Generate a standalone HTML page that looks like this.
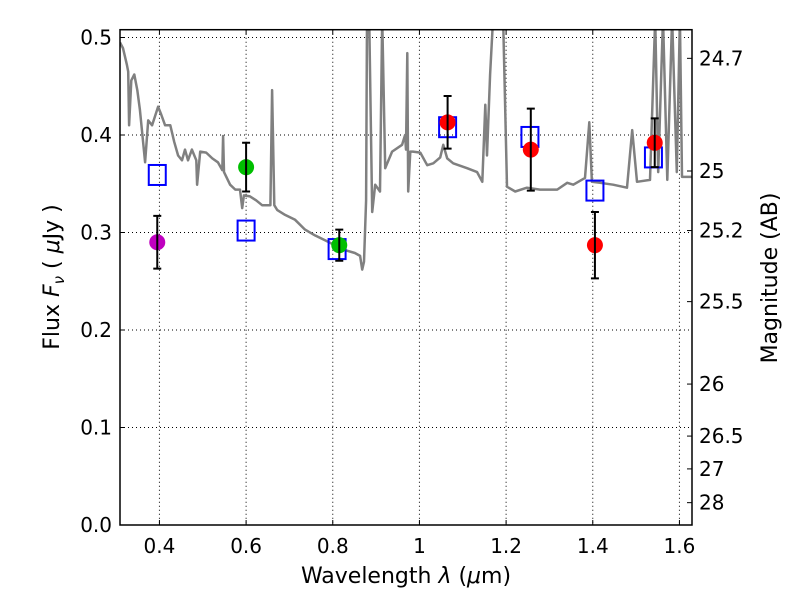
<!DOCTYPE html>
<html><head><meta charset="utf-8"><style>
body{margin:0;background:#fff;}
svg text{font-family:"DejaVu Sans","Liberation Sans",sans-serif;fill:#000;}
</style></head><body>
<svg id="chart" width="800" height="600" xmlns="http://www.w3.org/2000/svg"></svg>
<script>
const xTicks=[0.4,0.6,0.8,1.0,1.2,1.4,1.6];
const xTickLabels=["0.4","0.6","0.8","1","1.2","1.4","1.6"];
const yTicks=[0,0.1,0.2,0.3,0.4,0.5];
const yTickLabels=["0.0","0.1","0.2","0.3","0.4","0.5"];
const magTicks=[24.7,25,25.2,25.5,26,26.5,27,28];
const magTickLabels=["24.7","25","25.2","25.5","26","26.5","27","28"];
const specWave=[0.309,0.316,0.325,0.328,0.330,0.335,0.342,0.349,0.355,0.367,0.374,0.383,0.397,0.404,0.413,0.425,0.434,0.443,0.452,0.459,0.466,0.475,0.485,0.487,0.494,0.508,0.522,0.535,0.545,0.547,0.549,0.563,0.575,0.586,0.591,0.595,0.609,0.623,0.637,0.656,0.660,0.665,0.672,0.690,0.713,0.736,0.759,0.782,0.805,0.828,0.851,0.863,0.868,0.872,0.877,0.879,0.884,0.891,0.898,0.909,0.914,0.921,0.937,0.960,0.967,0.969,0.972,0.974,0.979,0.985,1.002,1.018,1.032,1.048,1.055,1.064,1.078,1.110,1.133,1.145,1.152,1.156,1.163,1.170,1.193,1.202,1.221,1.248,1.278,1.318,1.341,1.355,1.382,1.392,1.398,1.417,1.447,1.479,1.491,1.502,1.532,1.544,1.551,1.562,1.572,1.583,1.594,1.601,1.606,1.63];
const specFlux=[0.495,0.489,0.472,0.465,0.410,0.456,0.462,0.446,0.426,0.372,0.415,0.410,0.429,0.421,0.410,0.410,0.393,0.379,0.374,0.385,0.374,0.385,0.374,0.349,0.383,0.382,0.376,0.372,0.364,0.399,0.362,0.349,0.344,0.344,0.325,0.338,0.337,0.333,0.328,0.328,0.446,0.328,0.323,0.318,0.313,0.303,0.297,0.292,0.287,0.282,0.279,0.276,0.262,0.270,0.333,0.52,0.52,0.321,0.349,0.342,0.52,0.366,0.383,0.390,0.400,0.385,0.484,0.342,0.383,0.383,0.382,0.369,0.371,0.377,0.390,0.376,0.371,0.366,0.362,0.352,0.431,0.379,0.462,0.52,0.52,0.347,0.342,0.346,0.344,0.344,0.351,0.349,0.356,0.413,0.352,0.351,0.349,0.346,0.405,0.352,0.354,0.52,0.362,0.52,0.354,0.52,0.362,0.52,0.357,0.357];
const obsWave=[0.395,0.60,0.815,1.065,1.257,1.405,1.543];
const obsFlux=[0.290,0.367,0.287,0.413,0.385,0.287,0.392];
const obsErr=[0.027,0.025,0.016,0.027,0.042,0.034,0.025];
const obsColor=["#bf00bf","#00bf00","#00bf00","#ff0000","#ff0000","#ff0000","#ff0000"];
const modelWave=[0.395,0.60,0.81,1.065,1.255,1.405,1.54];
const modelFlux=[0.359,0.302,0.283,0.408,0.398,0.343,0.377];

const L=120,R=692,T=29.7,B=525,xmin=0.309,xmax=1.629,ymin=0,ymax=0.508;
const X=v=>L+(v-xmin)/(xmax-xmin)*(R-L);
const Y=v=>B-(v-ymin)/(ymax-ymin)*(B-T);
const svg=document.getElementById('chart');
const NS='http://www.w3.org/2000/svg';
function mk(tag,attrs,parent){const e=document.createElementNS(NS,tag);for(const k in attrs)e.setAttribute(k,attrs[k]);(parent||svg).appendChild(e);return e;}

const defs=mk('defs',{});
const cp=mk('clipPath',{id:'clip'},defs);
mk('rect',{x:L,y:T,width:R-L,height:B-T},cp);

xTicks.forEach((t,i)=>{
  const g=mk('line',{x1:X(t),x2:X(t),y1:T,y2:B,stroke:'#000','stroke-width':1,'stroke-dasharray':'1,3'});
  
  
  mk('line',{x1:X(t),x2:X(t),y1:B,y2:B-5,stroke:'#000'});
  mk('line',{x1:X(t),x2:X(t),y1:T,y2:T+5,stroke:'#000'});
  const tx=mk('text',{x:X(t),y:B+28,'text-anchor':'middle','font-size':20});
  tx.textContent=xTickLabels[i];
  
  
});
yTicks.forEach((t,i)=>{
  const g=mk('line',{x1:L,x2:R,y1:Y(t),y2:Y(t),stroke:'#000','stroke-width':1,'stroke-dasharray':'1,3'});
  
  
  mk('line',{x1:L,x2:L+5,y1:Y(t),y2:Y(t),stroke:'#000'});
  const tx=mk('text',{x:L-8,y:Y(t)+7,'text-anchor':'end','font-size':20});
  tx.textContent=yTickLabels[i];
  
  
});
magTicks.forEach((m,i)=>{
  const f=Math.pow(10,(23.9-m)/2.5);
  mk('line',{x1:R,x2:R-5,y1:Y(f),y2:Y(f),stroke:'#000'});
  const tx=mk('text',{x:R+7,y:Y(f)+7,'text-anchor':'start','font-size':20});
  tx.textContent=magTickLabels[i];
  
  
});

const pts=specWave.map((w,i)=>X(w).toFixed(1)+','+Y(specFlux[i]).toFixed(1)).join(' ');
const sp=mk('polyline',{points:pts,fill:'none',stroke:'#808080','stroke-width':2.5,'clip-path':'url(#clip)','stroke-linejoin':'round'});



modelWave.forEach((w,i)=>{
  const r=mk('rect',{x:X(w)-8.5,y:Y(modelFlux[i])-10,width:17,height:20,fill:'none',stroke:'#0000ff','stroke-width':2});
  
  
});
obsWave.forEach((w,i)=>{
  const c=mk('circle',{cx:X(w),cy:Y(obsFlux[i]),r:8,fill:obsColor[i]});
  
  
  const x=X(w),y1=Y(obsFlux[i]+obsErr[i]),y2=Y(obsFlux[i]-obsErr[i]);
  const e=mk('path',{d:`M${x},${y1}V${y2}M${x-4},${y1}H${x+4}M${x-4},${y2}H${x+4}`,stroke:'#000','stroke-width':2,fill:'none'});
  
  
});

const fr=mk('rect',{x:L,y:T,width:R-L,height:B-T,fill:'none',stroke:'#000','stroke-width':1.5});



const xl=mk('text',{x:406,y:583,'text-anchor':'middle','font-size':22});
xl.innerHTML='Wavelength  <tspan font-style="italic">λ</tspan> (<tspan font-style="italic">μ</tspan>m)';
xl.setAttribute('xml:space','preserve');


const yl=mk('text',{x:0,y:0,'text-anchor':'middle','font-size':22,transform:'translate(59,277) rotate(-90)'});
yl.setAttribute('xml:space','preserve');
yl.innerHTML='Flux  <tspan font-style="italic">F</tspan><tspan font-style="italic" font-size="15" dy="5">ν</tspan><tspan dy="-5">  (  </tspan><tspan font-style="italic">μ</tspan>Jy )';


const rl=mk('text',{x:0,y:0,'text-anchor':'middle','font-size':22,transform:'translate(777,278) rotate(-90)'});
rl.textContent='Magnitude (AB)';


</script>
</body></html>
